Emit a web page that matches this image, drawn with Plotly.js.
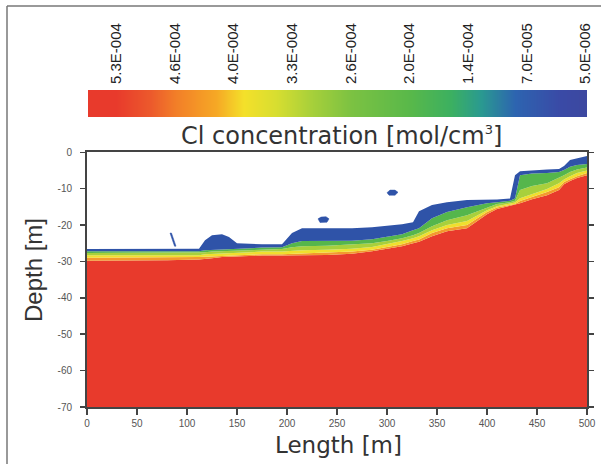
<!DOCTYPE html>
<html>
<head>
<meta charset="utf-8">
<script src="https://cdn.plot.ly/plotly-3.0.1.min.js"></script>
<style>html,body{margin:0;padding:0;background:#fff;}#chart{width:601px;height:464px;}</style>
</head>
<body>
<div id="chart"></div>
<script>
// ---- colour legend (Cl concentration levels, mol/cm3) ----
const levelVals  = [5.3e-4, 4.64e-4, 3.99e-4, 3.33e-4, 2.67e-4, 2.02e-4, 1.36e-4, 7.0e-5, 5.0e-6];
const levelLabels = ["5.3E-004","4.6E-004","4.0E-004","3.3E-004","2.6E-004","2.0E-004","1.4E-004","7.0E-005","5.0E-006"];

// ---- cross-section: distance along profile (m) ----
const lengthM = [0,40,80,112,118,125,135,142,150,175,195,205,215,240,265,285,300,315,326,332,345,360,380,400,410,423,428,433,445,460,472,477,483,490,500];
// depth (m) of the upper edge of each concentration zone
const blueTop   = [-26.6,-26.6,-26.6,-26.5,-24.2,-22.8,-22.5,-23.3,-25.0,-25.3,-25.3,-22.2,-20.9,-20.9,-20.9,-20.6,-20.3,-19.8,-19.2,-16.2,-14.5,-13.7,-13.1,-13.1,-13.0,-12.7,-6.3,-5.2,-4.9,-4.7,-4.6,-3.8,-2.1,-1.6,-1.0];
const greenTop  = [-27.2,-27.2,-27.2,-27.2,-26.9,-26.8,-26.6,-26.5,-26.4,-26.2,-26.1,-25.0,-24.4,-24.4,-24.3,-23.9,-23.3,-22.5,-21.4,-20.9,-18.1,-16.4,-15.1,-14.0,-13.7,-13.3,-12.7,-6.3,-5.8,-5.7,-5.4,-4.9,-4.0,-3.5,-3.2];
const ygTop     = [-27.7,-27.7,-27.7,-27.7,-27.5,-27.3,-27.2,-27.1,-26.9,-26.8,-26.6,-26.1,-25.8,-25.7,-25.4,-25.0,-24.4,-23.6,-22.8,-22.2,-20.3,-18.7,-17.3,-15.1,-14.2,-13.7,-13.3,-10.4,-9.3,-8.5,-7.1,-6.3,-5.4,-4.7,-4.2];
const yellowTop = [-28.3,-28.3,-28.3,-28.3,-28.0,-27.9,-27.7,-27.6,-27.5,-27.3,-27.3,-27.1,-26.9,-26.8,-26.5,-26.0,-25.3,-24.4,-23.6,-23.1,-21.4,-20.0,-18.9,-15.9,-14.8,-14.1,-13.8,-12.6,-11.5,-10.1,-8.5,-7.5,-6.6,-5.7,-5.0];
const orangeTop = [-29.0,-29.0,-29.0,-28.8,-28.7,-28.6,-28.4,-28.3,-28.2,-28.0,-28.0,-27.9,-27.7,-27.6,-27.3,-26.8,-26.1,-25.3,-24.4,-24.0,-22.2,-20.9,-20.0,-16.4,-15.2,-14.5,-14.2,-13.4,-12.3,-10.9,-9.6,-8.2,-7.4,-6.6,-5.7];
const redTop    = [-29.8,-29.8,-29.7,-29.5,-29.4,-29.1,-28.8,-28.7,-28.6,-28.4,-28.4,-28.3,-28.3,-28.2,-27.9,-27.2,-26.5,-25.8,-25.0,-24.6,-23.1,-21.7,-20.9,-17.0,-15.6,-14.8,-14.5,-14.0,-12.9,-11.8,-10.4,-8.8,-7.9,-7.1,-6.3];
const bottomDepth = lengthM.map(() => -70);

// isolated low-concentration patches
const patchA_x = [231,234,239,242,240,233,231];
const patchA_y = [-18.3,-17.8,-17.7,-18.3,-19.2,-19.3,-18.3];
const patchB_x = [300,303,308,311,308,302,300];
const patchB_y = [-11.1,-10.4,-10.4,-11.0,-11.8,-11.8,-11.1];
const patchC_x = [83,84.5,89,87.5,83];
const patchC_y = [-22.2,-22.2,-25.8,-25.8,-22.2];

// axis ticks
const xTicks = [0,50,100,150,200,250,300,350,400,450,500];
const yTicks = [0,-10,-20,-30,-40,-50,-60,-70];
const yTickText = ["0","-10","-20","-30","-40","-50","-60","-70"];

// ---- styling ----
const C = {red:'#e83a2c', orange:'#f39a2e', yellow:'#f0df2e', yg:'#a8d03c', green:'#55b64c', blue:'#2f53a8'};
const cscale = [[0,'#3c48a0'],[0.053,'#3a4aa6'],[0.149,'#2d64b0'],[0.223,'#2a9a90'],[0.287,'#3cb060'],[0.372,'#58b84a'],[0.5,'#7cc242'],[0.585,'#a8d03a'],[0.66,'#d8de30'],[0.728,'#f4e02a'],[0.787,'#f6a825'],[0.872,'#f27f28'],[0.926,'#ec5a2c'],[1,'#e83a2c']];

function band(y, color){
  return {type:'scatter', mode:'lines', x:lengthM, y:y, fill:'tonexty', fillcolor:color,
          line:{width:0, color:color}, hoverinfo:'skip', xaxis:'x', yaxis:'y'};
}
function patch(x, y){
  return {type:'scatter', mode:'lines', x:x, y:y, fill:'toself', fillcolor:C.blue,
          line:{width:0.5, color:C.blue}, hoverinfo:'skip', xaxis:'x', yaxis:'y'};
}

const hx = levelVals.slice().reverse();
const traces = [
  {type:'scatter', mode:'lines', x:lengthM, y:bottomDepth, line:{width:0}, hoverinfo:'skip'},
  band(redTop, C.red),
  band(orangeTop, C.orange),
  band(yellowTop, C.yellow),
  band(ygTop, C.yg),
  band(greenTop, C.green),
  band(blueTop, C.blue),
  patch(patchA_x, patchA_y),
  patch(patchB_x, patchB_y),
  patch(patchC_x, patchC_y),
  {type:'heatmap', x:hx, y:[0,1], z:[hx, hx], zmin:5e-6, zmax:5.3e-4, colorscale:cscale,
   zsmooth:'best', showscale:false, hoverinfo:'skip', xaxis:'x2', yaxis:'y2'}
];

const tickFont = {family:'Liberation Sans, Arial, sans-serif', size:10, color:'#555'};
const layout = {
  width:601, height:464,
  margin:{l:87, r:14, t:10, b:57, pad:0},
  paper_bgcolor:'#fff', plot_bgcolor:'#fff',
  showlegend:false,
  xaxis:{domain:[0,1], range:[0,500], anchor:'y', tickvals:xTicks, ticks:'outside', ticklen:6, tickwidth:1.5,
         tickcolor:'#444', showline:true, linecolor:'#444', linewidth:2, mirror:true,
         showgrid:false, zeroline:false, tickfont:tickFont, ticklabelstandoff:0},
  yaxis:{domain:[0,0.6416], range:[-70,0], anchor:'x', tickvals:yTicks, ticktext:yTickText, ticks:'outside',
         ticklen:5, tickwidth:1.5, tickcolor:'#444', showline:true, linecolor:'#444', linewidth:2, mirror:'ticks',
         showgrid:false, zeroline:false, tickfont:tickFont, ticklabelstandoff:6},
  xaxis2:{domain:[0.002,1], range:[5.613e-4, 2.77e-6], anchor:'y2', side:'top', tickvals:levelVals, ticktext:levelLabels,
          tickangle:-90, ticks:'', showline:false, showgrid:false, zeroline:false, ticklabelstandoff:5,
          tickfont:{family:'Liberation Sans, Arial, sans-serif', size:15, color:'#222'}},
  yaxis2:{domain:[0.7305,0.7985], range:[0,1], anchor:'x2', visible:false},
  annotations:[
    {xref:'paper', yref:'paper', x:0.508, y:0.6826, xanchor:'center', yanchor:'middle', showarrow:false,
     text:'Cl concentration [mol/cm<sup><span style="font-size:13px">3</span></sup>]', font:{family:'DejaVu Sans, sans-serif', size:24, color:'#333'}},
    {xref:'paper', yref:'paper', x:0.502, y:-0.0945, xanchor:'center', yanchor:'middle', showarrow:false,
     text:'Length [m]', font:{family:'DejaVu Sans, sans-serif', size:23, color:'#333'}},
    {xref:'paper', yref:'paper', x:-0.108, y:0.345, xanchor:'center', yanchor:'middle', showarrow:false, textangle:-90,
     text:'Depth [m]', font:{family:'Liberation Sans, Arial, sans-serif', size:24, color:'#333'}}
  ],
  shapes:[
    {type:'line', xref:'paper', yref:'paper', x0:-0.16, y0:-0.1436, x1:-0.16, y1:1.0101, line:{color:'#777', width:1.5}},
    {type:'line', xref:'paper', yref:'paper', x0:-0.16, y0:1.0101, x1:1.028, y1:1.0101, line:{color:'#777', width:1.5}}
  ]
};

Plotly.newPlot('chart', traces, layout, {staticPlot:true, displayModeBar:false});
</script>
</body>
</html>
